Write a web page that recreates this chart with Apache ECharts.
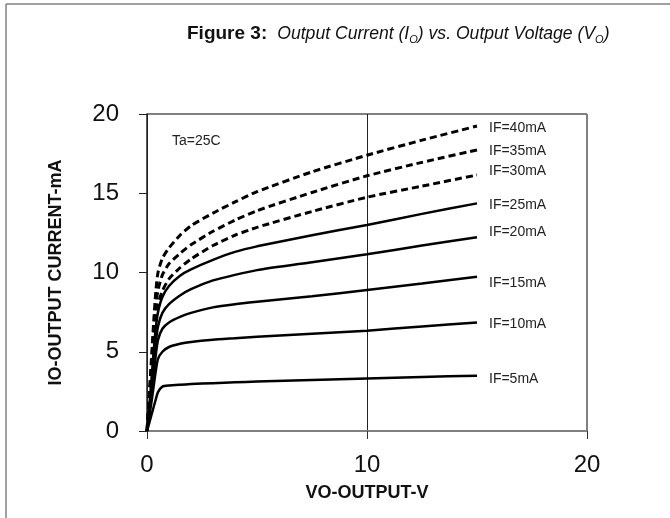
<!DOCTYPE html>
<html>
<head>
<meta charset="utf-8">
<script src="https://cdn.jsdelivr.net/npm/echarts@6/dist/echarts.min.js"></script>
<style>
    * { margin: 0; padding: 0; }
    body { background: #fff; }
</style>
</head>
<body>
<div id="main" style="width: 670px;height: 518px;"></div>
<script>
    // VO (V) sample points shared by every curve
    var voltage = [0, 0.1, 0.2, 0.3, 0.4, 0.5, 0.7, 1, 1.5, 2, 3, 4, 5, 7.5, 10, 12.5, 15];

    // IO (mA) per forward current
    var if40 = [0, 2.2, 4.5, 6.8, 8.8, 10.0, 10.9, 11.55, 12.35, 12.95, 13.75, 14.45, 15.1, 16.35, 17.4, 18.35, 19.24];
    var if35 = [0, 2.0, 4.1, 6.2, 7.9, 8.9, 9.85, 10.55, 11.2, 11.75, 12.6, 13.3, 13.9, 15.05, 16.1, 16.95, 17.73];
    var if30 = [0, 1.8, 3.7, 5.6, 7.1, 8.0, 8.85, 9.6, 10.3, 10.85, 11.7, 12.35, 12.85, 13.85, 14.75, 15.45, 16.15];
    var if25 = [0, 1.5, 3.2, 5.0, 6.5, 7.5, 8.45, 9.15, 9.8, 10.2, 10.8, 11.3, 11.65, 12.35, 13.0, 13.7, 14.36];
    var if20 = [0, 1.3, 2.7, 4.2, 5.6, 6.6, 7.45, 8.0, 8.55, 8.95, 9.5, 9.85, 10.15, 10.65, 11.15, 11.7, 12.22];
    var if15 = [0, 1.1, 2.3, 3.5, 4.8, 5.75, 6.45, 6.85, 7.2, 7.45, 7.8, 8.0, 8.15, 8.5, 8.9, 9.3, 9.73];
    var if10 = [0, 0.9, 1.8, 2.8, 3.8, 4.55, 5.0, 5.3, 5.5, 5.62, 5.76, 5.85, 5.94, 6.14, 6.33, 6.6, 6.85];
    var if5 = [0, 0.5, 1.0, 1.5, 2.0, 2.45, 2.8, 2.87, 2.92, 2.96, 3.02, 3.07, 3.12, 3.22, 3.32, 3.41, 3.49];

    var curveNames = ['IF=40mA', 'IF=35mA', 'IF=30mA', 'IF=25mA', 'IF=20mA', 'IF=15mA', 'IF=10mA', 'IF=5mA'];
    var curveValues = [if40, if35, if30, if25, if20, if15, if10, if5];
    var dashed = [true, true, true, false, false, false, false, false];
    var labelShift = [2, 1, -4, 2, -5, 6, 2, 3];

    var font = 'Arial, "Liberation Sans", sans-serif';

    function pairs(ys) {
        return voltage.map(function (v, i) { return [v, ys[i]]; });
    }

    var series = curveNames.map(function (name, i) {
        return {
            name: name,
            type: 'line',
            data: pairs(curveValues[i]),
            smooth: 0.2,
            showSymbol: false,
            symbol: 'none',
            animation: false,
            lineStyle: {
                color: '#000',
                width: dashed[i] ? 3 : 2.5,
                type: dashed[i] ? [7, 4] : 'solid'
            },
            endLabel: {
                show: true,
                formatter: name,
                distance: 12,
                offset: [0, labelShift[i]],
                fontSize: 14,
                fontFamily: font,
                color: '#222'
            }
        };
    });

    var chart = echarts.init(document.getElementById('main'));
    chart.setOption({
        backgroundColor: '#fff',
        animation: false,
        title: {
            left: 182,
            top: 18,
            text: '{b|Figure 3:}  {i|Output Current (I}{s|O}{i|) vs. Output Voltage (V}{s|O}{i|)}',
            textStyle: {
                rich: {
                    b: {fontSize: 19, fontWeight: 'bold', fontFamily: font, color: '#111', lineHeight: 22},
                    i: {fontSize: 17.6, fontWeight: 'normal', fontStyle: 'italic', fontFamily: font, color: '#111', lineHeight: 22},
                    s: {fontSize: 11, fontWeight: 'normal', fontStyle: 'italic', fontFamily: font, color: '#111', lineHeight: 12, verticalAlign: 'bottom'}
                }
            }
        },
        grid: {left: 147, right: 83, top: 114, bottom: 87},
        xAxis: {
            type: 'value',
            min: 0,
            max: 20,
            interval: 10,
            name: 'VO-OUTPUT-V',
            nameLocation: 'middle',
            nameGap: 53,
            nameTextStyle: {fontSize: 18, fontWeight: 'bold', fontFamily: font, color: '#111'},
            axisLine: {show: true, lineStyle: {color: '#808080', width: 2}},
            axisTick: {show: true, inside: false, length: 8, lineStyle: {color: '#333', width: 1}},
            axisLabel: {fontSize: 24, fontFamily: font, color: '#111', margin: 22},
            splitLine: {show: true, lineStyle: {color: ['#222', '#222', '#808080'], width: 1}}
        },
        yAxis: {
            type: 'value',
            min: 0,
            max: 20,
            interval: 5,
            name: 'IO-OUTPUT CURRENT-mA',
            nameLocation: 'middle',
            nameGap: 82,
            nameTextStyle: {fontSize: 18, fontWeight: 'bold', fontFamily: font, color: '#111'},
            axisLine: {show: true, onZero: false, lineStyle: {color: '#222', width: 1.5}},
            axisTick: {show: true, inside: false, length: 8, lineStyle: {color: '#222', width: 1}},
            axisLabel: {fontSize: 24, fontFamily: font, color: '#111', margin: 28},
            splitLine: {show: true, lineStyle: {color: ['#808080', '#808080', '#222', '#808080', '#808080'], width: [2, 2, 1, 2, 2]}}
        },
        graphic: [
            {type: 'line', shape: {x1: 6, y1: 4, x2: 6, y2: 518}, style: {stroke: '#808080', lineWidth: 1.5}},
            {type: 'line', shape: {x1: 6, y1: 4, x2: 670, y2: 4}, style: {stroke: '#808080', lineWidth: 1.5}},
            {type: 'line', shape: {x1: 147, y1: 114, x2: 587, y2: 114}, style: {stroke: '#808080', lineWidth: 2}},
            {type: 'line', shape: {x1: 587, y1: 114, x2: 587, y2: 431}, style: {stroke: '#808080', lineWidth: 2}},
            {type: 'text', left: 172, top: 134, style: {text: 'Ta=25C', fontSize: 14, fontFamily: font, fill: '#222'}}
        ],
        series: series
    });
</script>
</body>
</html>
